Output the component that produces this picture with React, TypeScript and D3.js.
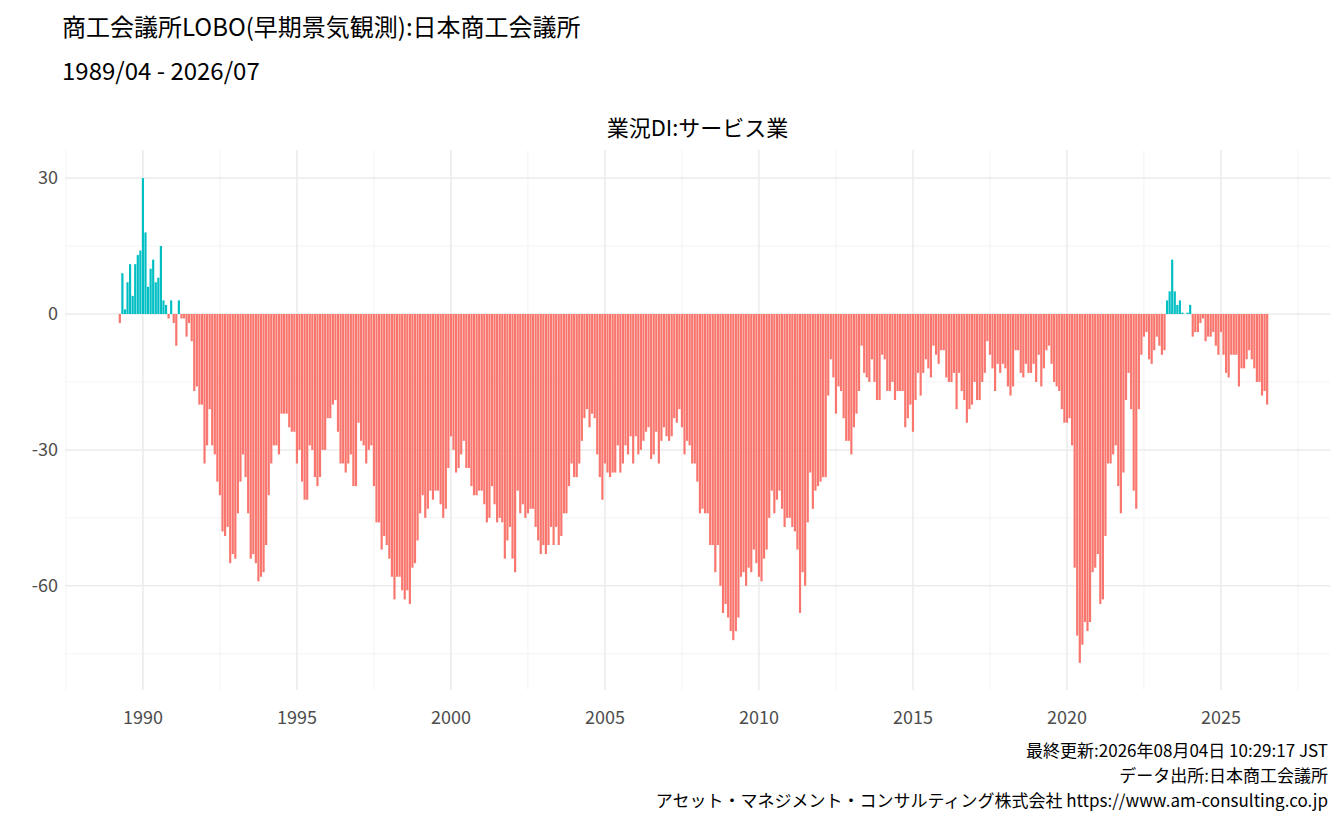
import React from "react";
import * as d3 from "d3";

// 業況DI:サービス業, monthly, 1989/04 - 2026/07
const startYear = 1989;
const startMonth = 4;
const v1989 = [-2, 9, 1, 7, 11, 4, 11, 13, 14];
const v1990 = [30, 18, 6, 10, 12, 7, 8, 15, 3, 2, -1, 3];
const v1991 = [-2, -7, 3, -1, -1, -5, -2, -6, -17, -16, -20, -20];
const v1992 = [-33, -29, -21, -29, -31, -37, -40, -48, -49, -47, -55, -53];
const v1993 = [-54, -44, -37, -31, -36, -44, -54, -53, -55, -59, -58, -57];
const v1994 = [-51, -40, -33, -29, -29, -31, -22, -22, -22, -25, -26, -26];
const v1995 = [-33, -30, -37, -41, -41, -29, -30, -36, -38, -36, -30, -30];
const v1996 = [-23, -23, -20, -19, -26, -33, -33, -35, -33, -31, -38, -38];
const v1997 = [-24, -28, -29, -33, -30, -29, -38, -46, -46, -52, -49, -51];
const v1998 = [-54, -58, -63, -58, -58, -61, -63, -61, -64, -56, -55, -50];
const v1999 = [-44, -40, -45, -43, -39, -41, -39, -39, -42, -45, -43, -34];
const v2000 = [-27, -30, -35, -34, -31, -28, -34, -34, -38, -40, -40, -39];
const v2001 = [-39, -42, -46, -45, -38, -42, -46, -45, -46, -54, -50, -47];
const v2002 = [-54, -57, -39, -44, -42, -45, -44, -43, -43, -47, -50, -53];
const v2003 = [-51, -53, -51, -47, -51, -47, -51, -49, -44, -44, -38, -33];
const v2004 = [-36, -36, -33, -28, -23, -21, -25, -22, -23, -31, -36, -41];
const v2005 = [-33, -35, -36, -35, -35, -29, -35, -33, -29, -31, -27, -33];
const v2006 = [-27, -31, -30, -28, -26, -25, -32, -31, -26, -33, -28, -25];
const v2007 = [-27, -28, -27, -23, -24, -21, -25, -31, -28, -29, -33, -33];
const v2008 = [-37, -44, -43, -44, -44, -51, -51, -57, -51, -60, -66, -64];
const v2009 = [-67, -70, -72, -70, -67, -58, -57, -60, -56, -57, -52, -55];
const v2010 = [-58, -59, -54, -52, -45, -39, -44, -41, -39, -43, -47, -45];
const v2011 = [-45, -47, -48, -52, -66, -57, -60, -46, -35, -43, -39, -38];
const v2012 = [-37, -36, -36, -18, -10, -14, -22, -16, -17, -23, -28, -28];
const v2013 = [-31, -25, -22, -17, -7, -13, -14, -15, -10, -15, -19, -19];
const v2014 = [-9, -10, -17, -17, -15, -19, -17, -17, -17, -25, -23, -20];
const v2015 = [-26, -19, -13, -18, -13, -10, -12, -14, -7, -9, -11, -8];
const v2016 = [-8, -14, -15, -15, -13, -21, -13, -17, -19, -24, -21, -20];
const v2017 = [-15, -19, -19, -15, -13, -6, -9, -12, -17, -11, -13, -11];
const v2018 = [-12, -16, -18, -16, -8, -8, -13, -14, -11, -13, -13, -11];
const v2019 = [-15, -9, -16, -12, -8, -7, -11, -15, -16, -17, -21, -24];
const v2020 = [-24, -23, -29, -56, -71, -77, -73, -68, -70, -68, -57, -56];
const v2021 = [-53, -64, -63, -49, -33, -33, -31, -29, -38, -44, -35, -19];
const v2022 = [-13, -21, -39, -43, -21, -9, -5, -4, -10, -11, -8, -5];
const v2023 = [-7, -9, -8, 3, 5, 12, 5, 2, 3, 0.3, 0, 0.3];
const v2024 = [2, -5, -4, -4, -2, -1, -6, -5, -5, -4, -7, -9];
const v2025 = [-4, -9, -13, -14, -9, -9, -9, -16, -12, -12, -10, -8];
const v2026 = [-10, -12, -15, -15, -18, -17, -20];

const allValues = [
  v1989, v1990, v1991, v1992, v1993, v1994, v1995, v1996, v1997, v1998,
  v1999, v2000, v2001, v2002, v2003, v2004, v2005, v2006, v2007, v2008,
  v2009, v2010, v2011, v2012, v2013, v2014, v2015, v2016, v2017, v2018,
  v2019, v2020, v2021, v2022, v2023, v2024, v2025, v2026,
].flat();

const yTicks = [30, 0, -30, -60];
const yMinor = [15, -15, -45, -75];
const xTicks = [1990, 1995, 2000, 2005, 2010, 2015, 2020, 2025];
const xMinor = [1987.5, 1992.5, 1997.5, 2002.5, 2007.5, 2012.5, 2017.5, 2022.5, 2027.5];

const titleText = "商工会議所LOBO(早期景気観測):日本商工会議所";
const subtitleText = "1989/04 - 2026/07";
const panelTitle = "業況DI:サービス業";
const captions = [
  "最終更新:2026年08月04日 10:29:17 JST",
  "データ出所:日本商工会議所",
  "アセット・マネジメント・コンサルティング株式会社 https://www.am-consulting.co.jp",
];

const W = 1344;
const H = 830;
const plot = { left: 65, right: 1330, top: 150, bottom: 690 };
const font = "'Noto Sans CJK JP', 'Noto Sans', sans-serif";

export default function App() {
  const data = allValues.map((v, i) => {
    const m = startMonth - 1 + i;
    return { t: startYear + m / 12, v };
  });

  const x = d3.scaleLinear().domain([1987.47, 2028.54]).range([plot.left, plot.right]);
  const y = d3.scaleLinear().domain([36.2, -83]).range([plot.top, plot.bottom]);
  const bw = ((x(1991) - x(1990)) / 12) * 0.85;

  return (
    <svg width={W} height={H} style={{ position: "absolute", left: 0, top: 0, fontFamily: font }}>
      <rect width={W} height={H} fill="#fff" />
      {yMinor.map((t) => (
        <line key={"ym" + t} x1={plot.left} x2={plot.right} y1={y(t)} y2={y(t)} stroke="#f0f0f0" strokeWidth={0.8} />
      ))}
      {xMinor.map((t) => (
        <line key={"xm" + t} y1={plot.top} y2={plot.bottom} x1={x(t)} x2={x(t)} stroke="#f0f0f0" strokeWidth={0.8} />
      ))}
      {yTicks.map((t) => (
        <line key={"y" + t} x1={plot.left} x2={plot.right} y1={y(t)} y2={y(t)} stroke="#ebebeb" strokeWidth={1.5} />
      ))}
      {xTicks.map((t) => (
        <line key={"x" + t} y1={plot.top} y2={plot.bottom} x1={x(t)} x2={x(t)} stroke="#ebebeb" strokeWidth={1.5} />
      ))}
      {data.map((d, i) => (
        <rect
          key={i}
          x={x(d.t) - bw / 2}
          width={bw}
          y={Math.min(y(d.v), y(0))}
          height={Math.abs(y(d.v) - y(0))}
          fill={d.v > 0 ? "#00BFC4" : "#F8766D"}
        />
      ))}
      {yTicks.map((t) => (
        <text key={"yl" + t} x={58} y={y(t)} dy="0.35em" textAnchor="end" fontSize={18} fill="#4d4d4d">
          {t}
        </text>
      ))}
      {xTicks.map((t) => (
        <text key={"xl" + t} x={x(t)} y={724} textAnchor="middle" fontSize={18} fill="#4d4d4d">
          {t}
        </text>
      ))}
      <text x={62} y={36} fontSize={24} fill="#000">{titleText}</text>
      <text x={62} y={80} fontSize={24} fill="#000">{subtitleText}</text>
      <text x={(plot.left + plot.right) / 2} y={136} textAnchor="middle" fontSize={22} fill="#000">
        {panelTitle}
      </text>
      {captions.map((c, i) => (
        <text key={i} x={1328} y={757 + i * 25} textAnchor="end" fontSize={17} fill="#000">
          {c}
        </text>
      ))}
    </svg>
  );
}
